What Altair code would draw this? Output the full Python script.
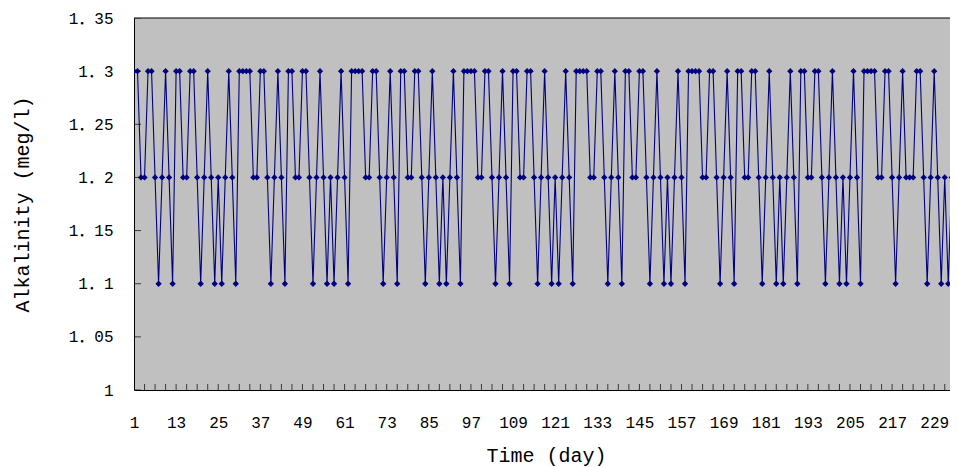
import altair as alt
import pandas as pd

# Days (category axis) and alkalinity readings (meg/l)
days = list(range(1, 235))

alk_1_48 = [1.3, 1.3, 1.2, 1.2, 1.3, 1.3, 1.2, 1.1, 1.2, 1.3, 1.2, 1.1,
            1.3, 1.3, 1.2, 1.2, 1.3, 1.3, 1.2, 1.1, 1.2, 1.3, 1.2, 1.1,
            1.2, 1.1, 1.2, 1.3, 1.2, 1.1, 1.3, 1.3, 1.3, 1.3, 1.2, 1.2,
            1.3, 1.3, 1.2, 1.1, 1.2, 1.3, 1.2, 1.1, 1.3, 1.3, 1.2, 1.2]
alk_49_96 = [1.3, 1.3, 1.2, 1.1, 1.2, 1.3, 1.2, 1.1, 1.2, 1.1, 1.2, 1.3,
             1.2, 1.1, 1.3, 1.3, 1.3, 1.3, 1.2, 1.2, 1.3, 1.3, 1.2, 1.1,
             1.2, 1.3, 1.2, 1.1, 1.3, 1.3, 1.2, 1.2, 1.3, 1.3, 1.2, 1.1,
             1.2, 1.3, 1.2, 1.1, 1.2, 1.1, 1.2, 1.3, 1.2, 1.1, 1.3, 1.3]
alk_97_144 = [1.3, 1.3, 1.2, 1.2, 1.3, 1.3, 1.2, 1.1, 1.2, 1.3, 1.2, 1.1,
              1.3, 1.3, 1.2, 1.2, 1.3, 1.3, 1.2, 1.1, 1.2, 1.3, 1.2, 1.1,
              1.2, 1.1, 1.2, 1.3, 1.2, 1.1, 1.3, 1.3, 1.3, 1.3, 1.2, 1.2,
              1.3, 1.3, 1.2, 1.1, 1.2, 1.3, 1.2, 1.1, 1.3, 1.3, 1.2, 1.2]
alk_145_192 = [1.3, 1.3, 1.2, 1.1, 1.2, 1.3, 1.2, 1.1, 1.2, 1.1, 1.2, 1.3,
               1.2, 1.1, 1.3, 1.3, 1.3, 1.3, 1.2, 1.2, 1.3, 1.3, 1.2, 1.1,
               1.2, 1.3, 1.2, 1.1, 1.3, 1.3, 1.2, 1.2, 1.3, 1.3, 1.2, 1.1,
               1.2, 1.3, 1.2, 1.1, 1.2, 1.1, 1.2, 1.3, 1.2, 1.1, 1.3, 1.3]
alk_193_234 = [1.2, 1.2, 1.3, 1.3, 1.2, 1.1, 1.2, 1.3, 1.2, 1.1, 1.2, 1.1,
               1.2, 1.3, 1.2, 1.1, 1.3, 1.3, 1.3, 1.3, 1.2, 1.2, 1.3, 1.3,
               1.2, 1.1, 1.2, 1.3, 1.2, 1.2, 1.2, 1.3, 1.3, 1.2, 1.1, 1.2,
               1.3, 1.2, 1.1, 1.2, 1.1, 1.2]

alkalinity = alk_1_48 + alk_49_96 + alk_97_144 + alk_145_192 + alk_193_234

x_label_days = [1, 13, 25, 37, 49, 61, 73, 85, 97, 109, 121, 133, 145,
                157, 169, 181, 193, 205, 217, 229]
x_tick_days = list(range(1, 235, 3))
y_tick_values = [1.0, 1.05, 1.1, 1.15, 1.2, 1.25, 1.3, 1.35]

df = pd.DataFrame({"day": days, "alk": alkalinity})
xt = pd.DataFrame({"day": x_tick_days})
yt = pd.DataFrame({"v": y_tick_values})

NAVY = "#000080"
FONT = "Liberation Mono, Noto Sans CJK SC, monospace"

# the reference plot area is cropped at the right edge of the picture
xscale = alt.Scale(domain=[1, 233.5], nice=False, zero=False)
yscale = alt.Scale(domain=[1.0, 1.35], nice=False, zero=False)

line = alt.Chart(df).mark_line(
    color=NAVY, strokeWidth=1.1, clip=True,
    point=alt.OverlayMarkDef(shape="diamond", size=40, filled=True, color=NAVY,
                             opacity=1, clip=True),
).encode(
    x=alt.X("day:Q", scale=xscale,
            axis=alt.Axis(values=x_label_days, format="d", ticks=False, tickSize=0,
                          grid=False, labelPadding=24, labelFontSize=16,
                          labelFlush=False, labelOverlap=False,
                          labelFont=FONT, labelColor="black", domainColor="black",
                          title="Time (day)", titleFont=FONT, titleFontSize=20,
                          titleFontWeight="normal", titleColor="black",
                          titleX=412, titleY=65, titleBaseline="middle",
                          titleAlign="center")),
    y=alt.Y("alk:Q", scale=yscale,
            axis=alt.Axis(values=y_tick_values, ticks=False, tickSize=0, grid=False,
                          labelExpr="replace(format(datum.value, '.2~f'), '.', '．')",
                          labelPadding=21, labelFontSize=16, labelFont=FONT,
                          labelColor="black", domainColor="black",
                          title="Alkalinity (meg/l)", titleFont=FONT, titleFontSize=20,
                          titleFontWeight="normal", titleColor="black",
                          titleX=-112, titleY=186, titleAngle=-90,
                          titleBaseline="middle", titleAlign="center")),
)

xticks = alt.Chart(xt).mark_tick(orient="vertical", size=12, thickness=1,
                                 color="black", clip=True).encode(
    x=alt.X("day:Q", scale=xscale), y=alt.datum(1.0)
)
yticks = alt.Chart(yt).mark_tick(orient="horizontal", size=14, thickness=1,
                                 color="black", clip=True).encode(
    y=alt.Y("v:Q", scale=yscale), x=alt.datum(1)
)
top_border = alt.Chart(yt).transform_filter("datum.v == 1.35").mark_rule(
    color="black", strokeWidth=1).encode(y=alt.Y("v:Q", scale=yscale))

chart = alt.layer(line, xticks, yticks, top_border).properties(
    width=816, height=372,
    autosize=alt.AutoSizeParams(type="none"),
    padding={"left": 126, "top": 10, "right": 0, "bottom": 77},
    background="white",
).configure_view(
    fill="#C0C0C0", stroke="transparent", strokeWidth=0
)

chart.save("out.html", embed_options={"renderer": "svg", "actions": False})
